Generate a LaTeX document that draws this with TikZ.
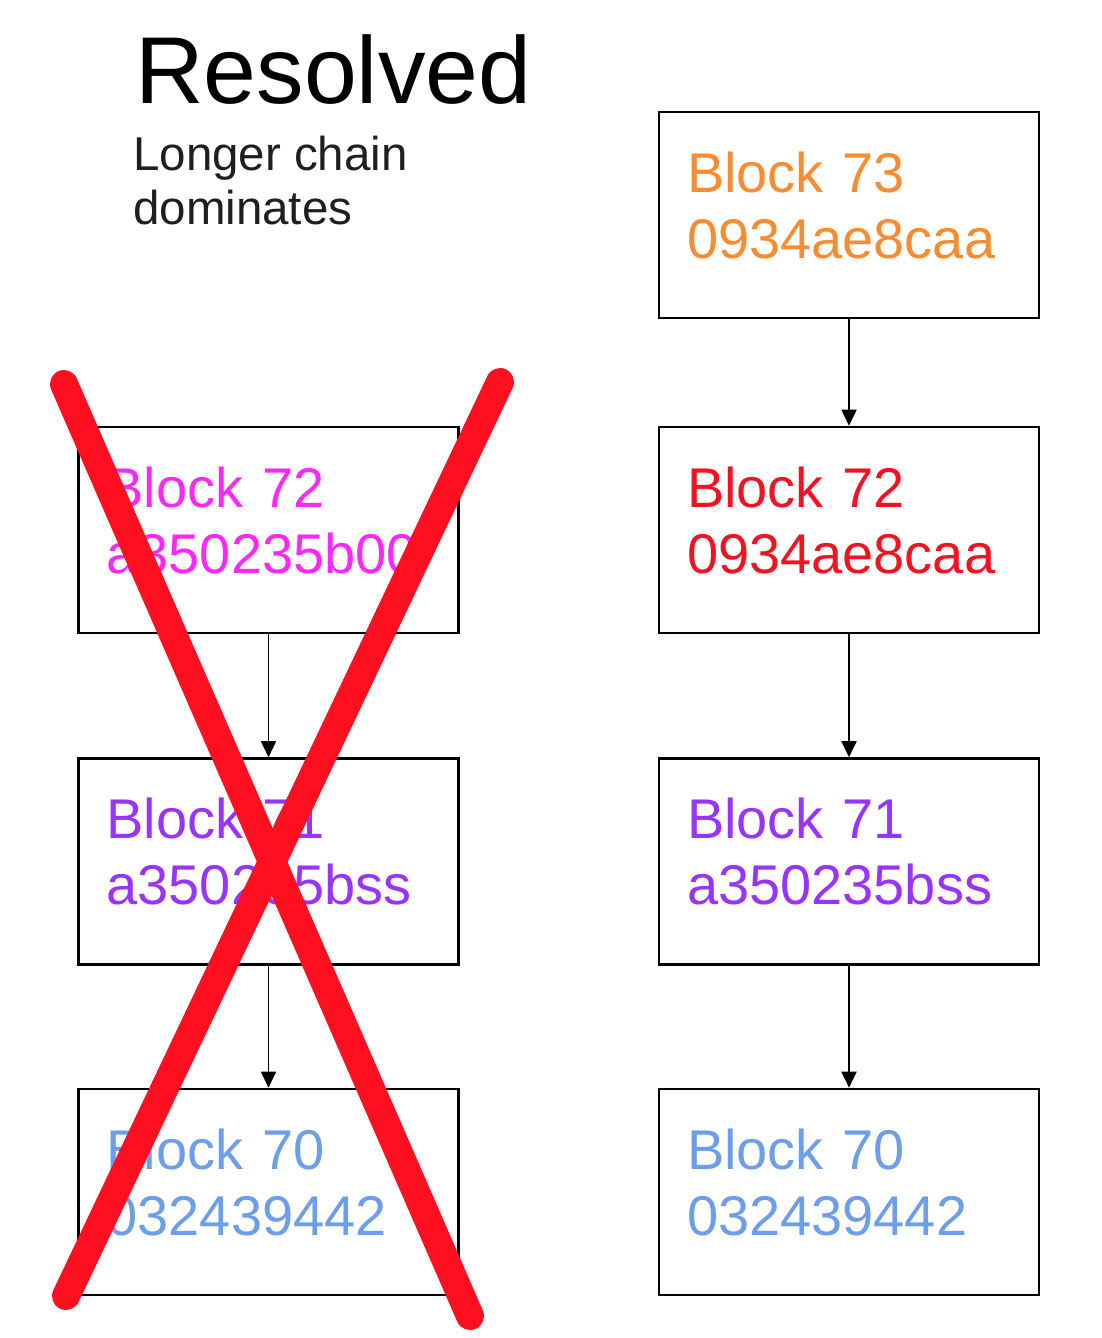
\documentclass[tikz,border=0pt]{standalone}
\usepackage{fontspec}
\setmainfont{Liberation Sans}
\usetikzlibrary{arrows.meta}

\definecolor{blkorange}{RGB}{248,140,50}
\definecolor{blkred}{RGB}{240,20,35}
\definecolor{blkmagenta}{RGB}{250,40,250}
\definecolor{blkpurple}{RGB}{153,51,255}
\definecolor{blkblue}{RGB}{109,158,235}
\definecolor{crossred}{RGB}{255,16,32}

\begin{document}
\begin{tikzpicture}
[x=1pt,y=-1pt,
 blocknode/.style={rectangle,draw=black,line width=2.6pt,minimum width=380pt,minimum height=206pt,
   inner xsep=28pt,inner ysep=0pt,text width=324pt,align=left,text height=40pt,text depth=86pt,
   font=\fontsize{56}{66}\selectfont},
 link/.style={-{Triangle[length=16pt,width=15pt]},line width=1.8pt},
 crossline/.style={draw=crossred,line width=28pt,line cap=round}]

\useasboundingbox (0,0) rectangle (1102,1338);

\node (title) at (135,103) [anchor=base west,inner sep=0pt,font=\fontsize{95}{110}\selectfont] {Resolved};
\node (note) at (133,224) [anchor=base west,inner sep=0pt,align=left,text=black!88,font=\fontsize{47.5}{54}\selectfont] {Longer chain\\dominates};

% dropped fork
\node (l72) at (268.5,530) [blocknode,text=blkmagenta] {Block 72\\a350235b00};
\node (l71) at (268.5,861.5) [blocknode,text=blkpurple] {Block 71\\a350235bss};
\node (l70) at (268.5,1192) [blocknode,text=blkblue] {Block 70\\032439442};

% longer chain
\node (r73) at (849,215) [blocknode,text=blkorange] {Block 73\\0934ae8caa};
\node (r72) at (849,530) [blocknode,text=blkred] {Block 72\\0934ae8caa};
\node (r71) at (849,861.5) [blocknode,text=blkpurple] {Block 71\\a350235bss};
\node (r70) at (849,1192) [blocknode,text=blkblue] {Block 70\\032439442};

\foreach \from/\to in {l72/l71,l71/l70, r73/r72,r72/r71,r71/r70}
	\draw[link] (\from) -- (\to);

% the cross
\coordinate (xa) at (64,384);
\coordinate (xb) at (470,1316);
\coordinate (xc) at (500,382);
\coordinate (xd) at (66,1296);
\draw[crossline] (xa) -- (xb);
\draw[crossline] (xc) -- (xd);

\end{tikzpicture}
\end{document}
